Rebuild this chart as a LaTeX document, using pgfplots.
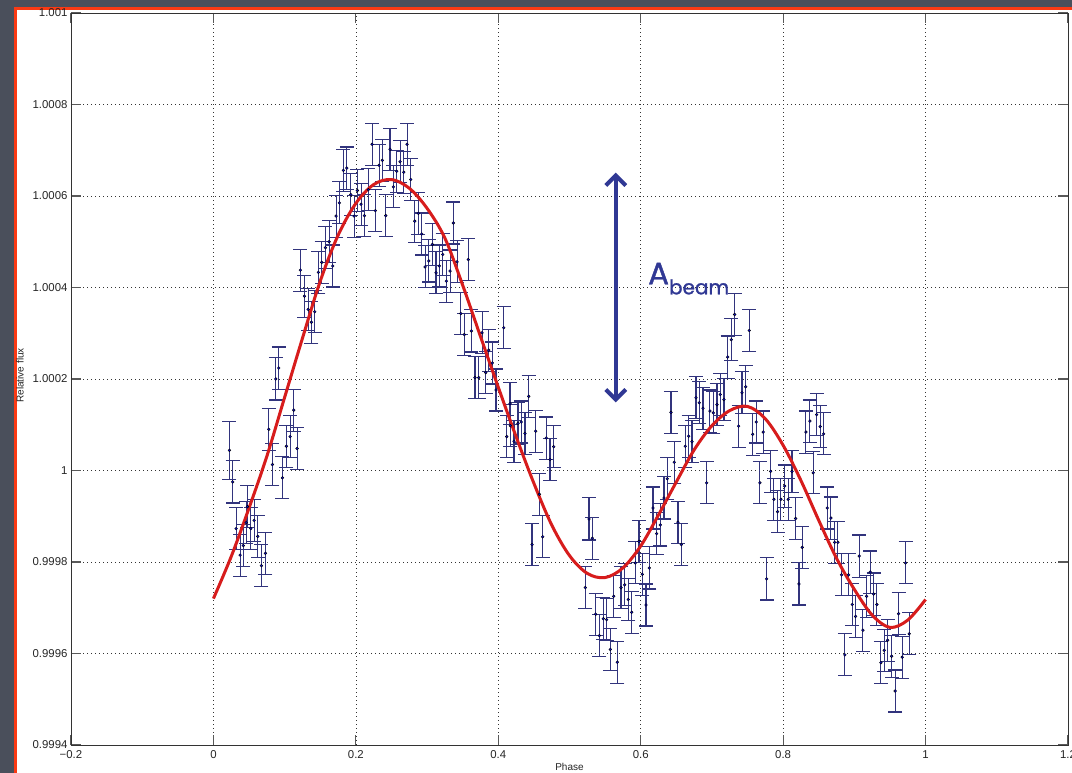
\documentclass[border=0pt]{standalone}
\usepackage{pgfplots}
\pgfplotsset{compat=1.18}
\usepackage{pgfplotstable}
\usetikzlibrary{arrows.meta}
\usepackage{fontspec}
\setmainfont{Liberation Sans}
\newfontfamily\notefont{Poppins}[FakeBold=1.2]

\definecolor{slide}{RGB}{74,79,91}
\definecolor{framered}{RGB}{250,58,20}
\definecolor{barnavy}{RGB}{50,52,125}
\definecolor{dotblue}{RGB}{10,10,200}
\definecolor{fitred}{RGB}{215,28,28}
\definecolor{annot}{RGB}{48,56,148}

% phase-folded photometry: phase, relative flux, 1-sigma error
\pgfplotstableread{
ph fx er
0.0225 1.000044 0.000063
0.0270 0.999975 0.000046
0.0319 0.999873 0.000046
0.0375 0.999815 0.000046
0.0420 0.999836 0.000046
0.0460 0.999886 0.000046
0.0478 0.999921 0.000046
0.0525 0.999873 0.000046
0.0571 0.999891 0.000046
0.0623 0.999856 0.000046
0.0674 0.999792 0.000046
0.0730 0.999819 0.000046
0.0777 1.000090 0.000046
0.0828 1.000013 0.000046
0.0876 1.000200 0.000046
0.0918 1.000224 0.000046
0.0969 0.999984 0.000046
0.1025 1.000053 0.000046
0.1077 1.000074 0.000046
0.1128 1.000132 0.000046
0.1175 1.000048 0.000046
0.1221 1.000438 0.000046
0.1278 1.000381 0.000046
0.1330 1.000352 0.000046
0.1376 1.000324 0.000046
0.1423 1.000347 0.000046
0.1474 1.000433 0.000046
0.1521 1.000455 0.000046
0.1572 1.000487 0.000046
0.1624 1.000500 0.000046
0.1676 1.000447 0.000046
0.1722 1.000556 0.000046
0.1769 1.000585 0.000046
0.1825 1.000656 0.000046
0.1873 1.000661 0.000046
0.1929 1.000603 0.000046
0.1975 1.000556 0.000046
0.2021 1.000612 0.000046
0.2073 1.000582 0.000046
0.2120 1.000557 0.000046
0.2176 1.000614 0.000046
0.2228 1.000713 0.000046
0.2274 1.000568 0.000046
0.2326 1.000667 0.000046
0.2372 1.000678 0.000046
0.2420 1.000557 0.000046
0.2480 1.000702 0.000046
0.2527 1.000620 0.000046
0.2574 1.000654 0.000046
0.2621 1.000675 0.000046
0.2673 1.000652 0.000046
0.2719 1.000713 0.000046
0.2771 1.000636 0.000046
0.2827 1.000545 0.000046
0.2878 1.000562 0.000046
0.2925 1.000517 0.000046
0.2972 1.000445 0.000046
0.3024 1.000458 0.000046
0.3074 1.000494 0.000046
0.3126 1.000432 0.000046
0.3172 1.000447 0.000046
0.3220 1.000472 0.000046
0.3271 1.000414 0.000046
0.3323 1.000436 0.000046
0.3369 1.000541 0.000046
0.3421 1.000456 0.000046
0.3473 1.000343 0.000046
0.3523 1.000297 0.000046
0.3579 1.000461 0.000046
0.3622 1.000305 0.000046
0.3673 1.000203 0.000046
0.3725 1.000203 0.000046
0.3772 1.000301 0.000046
0.3824 1.000214 0.000046
0.3866 1.000263 0.000046
0.3916 1.000235 0.000046
0.3968 1.000176 0.000046
0.4076 1.000312 0.000046
0.4119 1.000074 0.000046
0.4165 1.000146 0.000046
0.4169 1.000098 0.000046
0.4221 1.000064 0.000046
0.4277 1.000103 0.000046
0.4323 1.000106 0.000046
0.4375 1.000081 0.000046
0.4427 1.000162 0.000046
0.4474 0.999838 0.000046
0.4525 1.000086 0.000046
0.4577 0.999948 0.000046
0.4624 0.999855 0.000046
0.4674 1.000071 0.000046
0.4726 1.000024 0.000046
0.4778 1.000052 0.000046
0.5222 0.999744 0.000046
0.5274 0.999894 0.000046
0.5320 0.999852 0.000046
0.5368 0.999686 0.000046
0.5419 0.999639 0.000046
0.5475 0.999676 0.000046
0.5522 0.999674 0.000046
0.5573 0.999609 0.000046
0.5620 0.999725 0.000046
0.5671 0.999581 0.000046
0.5723 0.999744 0.000046
0.5775 0.999750 0.000046
0.5825 0.999718 0.000046
0.5873 0.999690 0.000046
0.5924 0.999798 0.000046
0.5976 0.999845 0.000046
0.6022 0.999773 0.000046
0.6074 0.999706 0.000046
0.6120 0.999787 0.000046
0.6172 0.999918 0.000046
0.6224 0.999862 0.000046
0.6275 0.999881 0.000046
0.6327 0.999940 0.000046
0.6373 0.999982 0.000046
0.6425 1.000127 0.000046
0.6471 1.000018 0.000046
0.6523 0.999887 0.000046
0.6570 0.999838 0.000046
0.6626 1.000053 0.000046
0.6673 1.000075 0.000046
0.6720 1.000063 0.000046
0.6776 1.000159 0.000046
0.6822 1.000148 0.000046
0.6874 1.000136 0.000046
0.6926 0.999973 0.000046
0.6972 1.000130 0.000046
0.7019 1.000126 0.000046
0.7071 1.000144 0.000046
0.7117 1.000166 0.000046
0.7169 1.000155 0.000046
0.7221 1.000248 0.000046
0.7272 1.000286 0.000046
0.7319 1.000341 0.000046
0.7375 1.000097 0.000046
0.7422 1.000170 0.000046
0.7474 1.000183 0.000046
0.7524 1.000306 0.000046
0.7572 1.000079 0.000046
0.7622 1.000106 0.000046
0.7674 0.999973 0.000046
0.7720 1.000084 0.000046
0.7768 0.999763 0.000046
0.7824 0.999998 0.000046
0.7870 0.999937 0.000046
0.7922 0.999910 0.000046
0.7969 0.999937 0.000046
0.8021 0.999966 0.000046
0.8071 0.999937 0.000046
0.8124 0.999998 0.000046
0.8175 0.999895 0.000046
0.8222 0.999752 0.000046
0.8268 0.999832 0.000046
0.8320 1.000084 0.000046
0.8376 1.000108 0.000046
0.8422 0.999995 0.000046
0.8470 1.000122 0.000046
0.8520 1.000096 0.000046
0.8568 1.000080 0.000046
0.8619 0.999918 0.000046
0.8671 0.999896 0.000046
0.8723 0.999843 0.000046
0.8769 0.999843 0.000046
0.8821 0.999772 0.000046
0.8867 0.999597 0.000046
0.8919 0.999772 0.000046
0.8970 0.999707 0.000046
0.9017 0.999681 0.000046
0.9068 0.999813 0.000046
0.9120 0.999651 0.000046
0.9172 0.999725 0.000046
0.9222 0.999778 0.000046
0.9270 0.999730 0.000046
0.9316 0.999707 0.000046
0.9373 0.999580 0.000046
0.9419 0.999607 0.000046
0.9467 0.999629 0.000046
0.9523 0.999594 0.000046
0.9573 0.999518 0.000046
0.9621 0.999687 0.000046
0.9672 0.999592 0.000046
0.9719 0.999798 0.000046
0.9770 0.999643 0.000046
}\fluxdata

% best-fit light-curve model
\pgfplotstableread{
ph fx
0.000 0.999720
0.025 0.999812
0.050 0.999918
0.075 1.000031
0.100 1.000160
0.125 1.000289
0.150 1.000414
0.175 1.000514
0.200 1.000584
0.225 1.000625
0.250 1.000636
0.275 1.000617
0.300 1.000573
0.325 1.000508
0.350 1.000405
0.375 1.000293
0.400 1.000182
0.425 1.000074
0.450 0.999972
0.475 0.999881
0.500 0.999814
0.525 0.999775
0.550 0.999766
0.575 0.999787
0.600 0.999835
0.625 0.999903
0.650 0.999975
0.675 1.000045
0.700 1.000098
0.725 1.000131
0.750 1.000140
0.775 1.000113
0.800 1.000055
0.825 0.999978
0.850 0.999891
0.875 0.999808
0.900 0.999740
0.925 0.999684
0.950 0.999657
0.975 0.999673
1.000 0.999718
}\fitcurve

\begin{document}
\begin{tikzpicture}[x=1pt,y=1pt]
\useasboundingbox (0,0) rectangle (1072,773);
% slide background and framed white panel
\fill[slide] (0,0) rectangle (1072,773);
\fill[white] (15,-5) rectangle (1080,764.5);
\draw[framered, line width=3pt] (15,-5) -- (15,764.5) -- (1080,764.5);

\begin{axis}[
  at={(71pt,28pt)}, anchor=south west,
  scale only axis, width=997pt, height=732pt,
  xmin=-0.2, xmax=1.2, ymin=0.9994, ymax=1.001,
  xtick={-0.2,0,0.2,0.4,0.6,0.8,1,1.2},
  xticklabels={−0.2,0,0.2,0.4,0.6,0.8,1,1.2},
  ytick={0.9994,0.9996,0.9998,1,1.0002,1.0004,1.0006,1.0008,1.001},
  yticklabels={0.9994,0.9996,0.9998,1,1.0002,1.0004,1.0006,1.0008,1.001},
  axis line style={black!80, line width=0.8pt},
  grid=major,
  major grid style={black!80, line width=0.7pt, dash pattern=on 1pt off 3pt},
  major tick length=10pt,
  tick style={black!65, line width=1.2pt},
  tick label style={font=\fontsize{11.4}{13}\selectfont, black!85},
  xticklabel style={yshift=-2pt},
  xlabel={Phase}, ylabel={Relative flux},
  label style={font=\fontsize{10}{12}\selectfont, black!85},
  xlabel style={at={(axis description cs:0.5,-0.024)}, anchor=north, inner sep=0pt},
  ylabel style={at={(axis description cs:-0.0512,0.505)}, anchor=center, inner sep=0pt},
  clip=false,
]
\addplot[only marks, mark=*, mark size=1.4pt,
  mark options={draw=none, fill=dotblue},
  error bars/.cd, y dir=both, y explicit,
  error bar style={barnavy, line width=1.1pt},
  error mark options={barnavy, line width=1.1pt, mark size=7pt, rotate=90}]
  table[x=ph, y=fx, y error=er] {\fluxdata};

\addplot[fitred, line width=3pt, smooth, tension=0.55] table[x=ph, y=fx] {\fitcurve};

% beaming amplitude marker
\draw[annot, line width=4pt,
  {Straight Barb[length=10pt, width=20pt, line width=4pt]}-{Straight Barb[length=10pt, width=20pt, line width=4pt]}]
  (axis cs:0.565,1.000149) -- (axis cs:0.565,1.000651);
\node[annot, anchor=base west, inner sep=0pt] at (axis cs:0.6102,1.000407)
  {\notefont\fontsize{31}{31}\selectfont A\raisebox{-10pt}{\fontsize{20}{20}\selectfont beam}};
\end{axis}
\end{tikzpicture}
\end{document}
